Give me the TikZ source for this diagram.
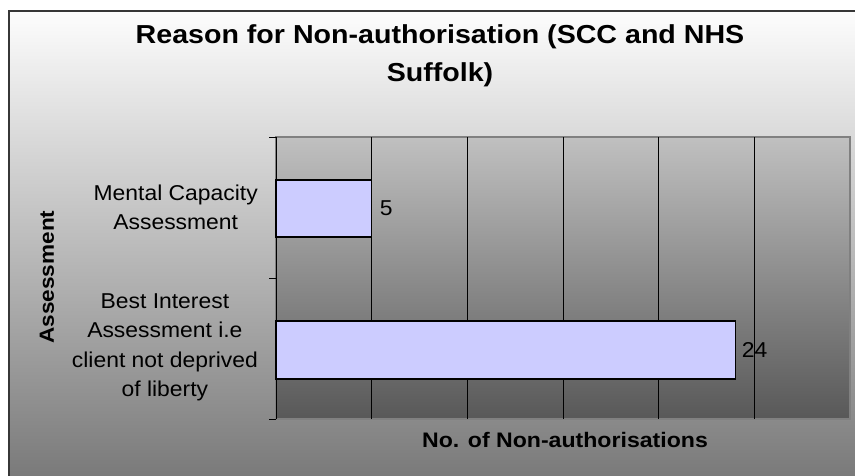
\documentclass[tikz,border=0pt]{standalone}
\usepackage{fontspec}
\setmainfont{Liberation Sans}
\newfontfamily\catfont[FakeStretch=1.065]{Liberation Sans}
\newfontfamily\titfont[FakeStretch=1.1]{Liberation Sans}
\newfontfamily\axfont[FakeStretch=1.1]{Liberation Sans}
\definecolor{bgtop}{RGB}{253,253,253}
\definecolor{bgbot}{RGB}{118,118,118}
\definecolor{pltop}{RGB}{192,192,192}
\definecolor{plbot}{RGB}{88,88,88}
\definecolor{plborder}{RGB}{128,128,128}
\definecolor{framecol}{RGB}{55,55,55}
\definecolor{barfill}{RGB}{204,204,255}
\tikzset{
  barbox/.style={draw=black, line width=1.2pt, fill=barfill, inner sep=0pt, outer sep=0pt, anchor=north west},
  catlabel/.style={inner sep=0pt, align=center, anchor=east, font=\catfont\fontsize{21.5}{29.5}\selectfont},
  vallabel/.style={inner sep=0pt, anchor=west, font=\catfont\fontsize{21.5}{26}\selectfont},
  gridline/.style={draw=black, line width=0.8pt},
  tickline/.style={draw=black, line width=1pt},
}
\begin{document}
\begin{tikzpicture}[x=1pt, y=-1pt]
\useasboundingbox (0,0) rectangle (855,475);
% chart area
\shade[top color=bgtop, bottom color=bgbot] (9,11) rectangle (870,490);
\draw[framecol, line width=2pt] (9,490) -- (9,11) -- (870,11);
% plot area
\shade[top color=pltop, bottom color=plbot] (276,137) rectangle (850,419);
\draw[plborder, line width=1.5pt] (276,137) rectangle (850,419);
% coordinates for axis
\coordinate (p0) at (276,137);
\coordinate (p1) at (276,278);
\coordinate (p2) at (276,419);
\coordinate (t0) at (269,137);
\coordinate (t1) at (269,278);
\coordinate (t2) at (269,419);
% gridlines
\foreach \k in {1,...,5}{
  \coordinate (gt\k) at ({276+95.67*\k},137);
  \coordinate (gb\k) at ({276+95.67*\k},419);
  \draw[gridline] (gt\k) -- (gb\k);
}
% bars
\node[barbox, minimum width=95.7, minimum height=57] (b1) at (276,180) {};
\node[barbox, minimum width=459.6, minimum height=58] (b2) at (276,321) {};
% y axis
\draw[tickline] (p0) -- (p2);
\draw[tickline] (t0) -- (p0);
\draw[tickline] (t1) -- (p1);
\draw[tickline] (t2) -- (p2);
% value labels
\node[vallabel] (v1) at ([xshift=8pt]b1.east) {5};
\node[vallabel] (v2) at ([xshift=6pt]b2.east) {24};
% category labels
\node[catlabel] (c1) at (258,207.5) {Mental Capacity\\Assessment};
\node[catlabel] (c2) at (258,347.5) {Best Interest\\Assessment i.e\\client not deprived\\of liberty};
% titles
\node[inner sep=0pt, align=center, font=\titfont\bfseries\fontsize{26}{38}\selectfont] (title) at (440,56) {Reason for Non-authorisation (SCC and NHS\\Suffolk)};
\node[inner sep=0pt, rotate=90, font=\axfont\bfseries\fontsize{20.5}{24}\selectfont] (ytitle) at (47,277) {Assessment};
\node[inner sep=0pt, font=\axfont\bfseries\fontsize{21}{24}\selectfont] (xtitle) at (565,440) {No. of Non-authorisations};
\end{tikzpicture}
\end{document}
